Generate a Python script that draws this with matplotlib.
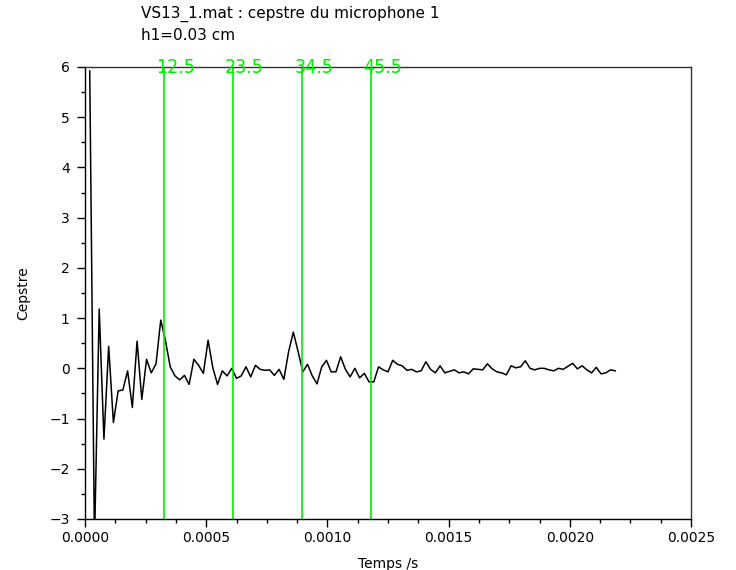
import matplotlib
matplotlib.use("Agg")
import matplotlib.pyplot as plt
from matplotlib.ticker import MultipleLocator, FormatStrFormatter
import numpy as np

# cepstrum samples (index 1..112), sampling rate 51200 Hz
fs = 51200.0
cepstre = [
    5.92, -3.5, 1.18, -1.41, 0.44, -1.08, -0.45, -0.43, -0.05, -0.78,
    0.54, -0.62, 0.18, -0.09, 0.09, 0.96, 0.55, 0.03, -0.15, -0.23,
    -0.14, -0.32, 0.18, 0.06, -0.10, 0.56, 0.01, -0.32, -0.05, -0.15,
    0.00, -0.20, -0.15, 0.03, -0.17, 0.06, -0.02, -0.04, -0.03, -0.14,
    -0.02, -0.22, 0.33, 0.72, 0.34, -0.07, 0.08, -0.15, -0.31, 0.03,
    0.16, -0.07, -0.07, 0.23, -0.02, -0.17, 0.00, -0.19, -0.10, -0.27,
    -0.27, 0.03, -0.03, -0.07, 0.16, 0.08, 0.05, -0.04, -0.02, -0.07,
    -0.05, 0.13, -0.02, -0.09, 0.05, -0.09, -0.06, -0.03, -0.09, -0.07,
    -0.11, -0.01, -0.02, -0.03, 0.09, -0.01, -0.07, -0.09, -0.13, 0.05,
    0.01, 0.03, 0.15, 0.00, -0.03, 0.00, 0.00, -0.03, -0.05, 0.00,
    -0.02, 0.04, 0.10, -0.01, 0.05, -0.03, -0.09, 0.02, -0.11, -0.09,
    -0.03, -0.05,
]
temps = np.arange(1, len(cepstre) + 1) / fs

# green markers
marker_t = [0.000327, 0.000611, 0.000896, 0.001181]
marker_labels = ["12.5", "23.5", "34.5", "45.5"]

title = "VS13_1.mat : cepstre du microphone 1\nh1=0.03 cm"

fig = plt.figure(figsize=(7.36, 5.70), dpi=100)
ax = fig.add_axes([85 / 736, 51 / 570, 606 / 736, 452 / 570])

ax.plot(temps, cepstre, color="black", linewidth=1.1)

for t, lab in zip(marker_t, marker_labels):
    ax.axvline(t, color="#00ee00", linewidth=1.2)
    ax.annotate(lab, xy=(t, 6), xytext=(-8, -6), textcoords="offset pixels",
                ha="left", va="baseline", color="#00ee00", fontsize=14,
                family="DejaVu Sans", fontstretch="condensed",
                annotation_clip=False)

ax.set_xlim(0, 0.0025)
ax.set_ylim(-3, 6)
ax.xaxis.set_major_locator(MultipleLocator(0.0005))
ax.xaxis.set_minor_locator(MultipleLocator(0.000125))
ax.xaxis.set_major_formatter(FormatStrFormatter("%.4f"))
ax.yaxis.set_major_locator(MultipleLocator(1))
ax.yaxis.set_minor_locator(MultipleLocator(0.5))

ax.tick_params(which="major", length=6, width=1, labelsize=10, direction="out")
ax.tick_params(which="minor", length=3, width=1, direction="out")
ax.tick_params(axis="y", pad=5)
ax.tick_params(axis="x", pad=3)
ax.tick_params(top=False, right=False, which="both")

for s in ax.spines.values():
    s.set_linewidth(1.0)
ax.spines["top"].set_color("#333333")
ax.spines["right"].set_color("#333333")

ax.set_xlabel("Temps /s", fontsize=10, labelpad=8)
ax.set_ylabel("Cepstre", fontsize=10, labelpad=14)

fig.text(141 / 736, 1 - 6 / 570, title, ha="left", va="top",
         fontsize=11, linespacing=1.45)

fig.savefig("out.png", dpi=100)
